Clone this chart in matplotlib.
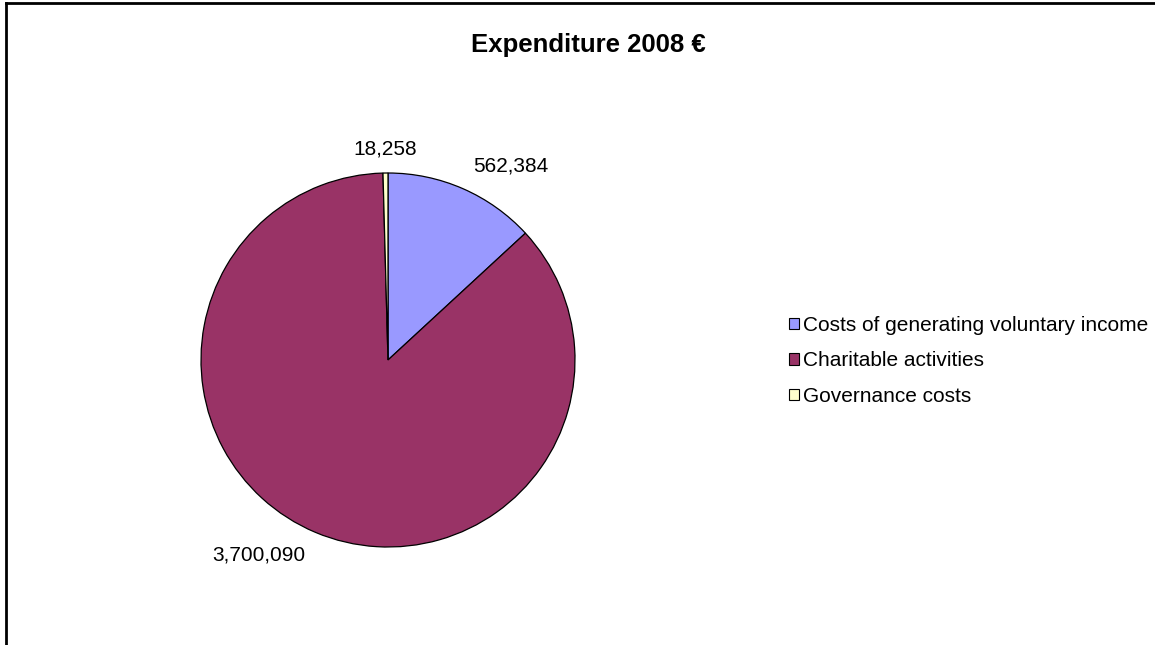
import numpy as np
import matplotlib
matplotlib.use('Agg')
from matplotlib import pyplot as plt
from matplotlib.lines import Line2D
from matplotlib.patches import Patch

plt.rcParams['font.family'] = ['Liberation Sans', 'DejaVu Sans']

categories = ['Costs of generating voluntary income', 'Charitable activities', 'Governance costs']
values = [562384, 3700090, 18258]
value_labels = ['562,384', '3,700,090', '18,258']
colors = ['#9999FF', '#993366', '#FFFFCC']

W, H = 1155, 645
fig = plt.figure(figsize=(W / 100, H / 100), dpi=100)

# pie centre and radius in pixels
cx, cy, r = 388, 360, 187
ax = fig.add_axes([(cx - r) / W, (H - cy - r) / H, 2 * r / W, 2 * r / H])
wedges, texts = ax.pie(values, labels=value_labels, colors=colors, startangle=90,
                       counterclock=False, labeldistance=1.13,
                       wedgeprops=dict(edgecolor='black', linewidth=0.9),
                       textprops=dict(fontsize=15, color='black'))
texts[2].set_ha('center')
ax.set_xlim(-1, 1)
ax.set_ylim(-1, 1)
ax.set_aspect('equal')

fig.text(588 / W, 1 - 45 / H, 'Expenditure 2008 €', ha='center', va='center',
         fontsize=18.5, fontweight='bold')

handles = [Patch(facecolor=c, edgecolor='black', linewidth=0.8) for c in colors]
fig.legend(handles, categories, loc='center left', bbox_to_anchor=(779 / W, 1 - 361 / H),
           frameon=False, fontsize=15, handlelength=0.45, handleheight=0.45,
           handletextpad=0.2, labelspacing=0.78, borderpad=0)

# outer frame: only left and top edges fall inside the picture
fig.add_artist(Line2D([6 / W, 6 / W], [0, 1 - 3 / H], color='black', linewidth=2))
fig.add_artist(Line2D([6 / W, 1], [1 - 3 / H, 1 - 3 / H], color='black', linewidth=2))

fig.savefig('out.png', dpi=100)
